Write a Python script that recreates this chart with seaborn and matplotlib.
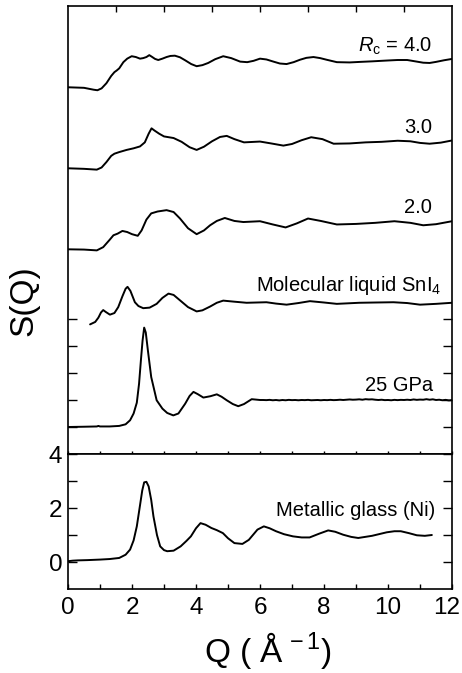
import numpy as np
import pandas as pd
import matplotlib
matplotlib.use("Agg")
import matplotlib.pyplot as plt
import matplotlib.transforms as mtransforms
import seaborn as sns

# ---------------- data ----------------
q_rc4 = [0, 0.5, 0.8, 0.92, 1.05, 1.2, 1.35, 1.45, 1.52, 1.6, 1.73, 1.85, 1.99, 2.12, 2.25, 2.35, 2.45, 2.54, 2.62, 2.72,
         2.82, 2.95, 3.08, 3.2, 3.34, 3.5, 3.66, 3.85, 4.02, 4.2, 4.38, 4.6, 4.85, 5.1, 5.38, 5.6, 5.8, 6.0, 6.2, 6.42,
         6.62, 6.83, 7.05, 7.25, 7.45, 7.67, 7.88, 8.08, 8.4, 8.8, 9.13, 9.5, 9.96, 10.3, 10.6, 10.85, 11.1, 11.3, 11.5,
         11.75, 12.0]
s_rc4 = [0.0, -0.02, -0.09, -0.11, -0.04, 0.15, 0.42, 0.56, 0.62, 0.7, 0.93, 1.06, 1.15, 1.12, 1.06, 1.08, 1.12, 1.19,
         1.13, 1.05, 1.01, 1.06, 1.12, 1.16, 1.17, 1.11, 1.0, 0.86, 0.78, 0.82, 0.9, 1.04, 1.15, 1.08, 0.95, 0.93, 0.98,
         1.06, 1.03, 0.95, 0.88, 0.86, 0.93, 1.02, 1.09, 1.12, 1.08, 1.02, 0.93, 0.92, 0.94, 0.96, 0.99, 1.01, 1.01,
         0.96, 0.91, 0.9, 0.94, 1.0, 1.05]

q_rc3 = [0, 0.5, 0.9, 1.05, 1.2, 1.35, 1.45, 1.6, 1.83, 2.05, 2.25, 2.4, 2.52, 2.61, 2.7, 2.85, 3.0, 3.3, 3.55, 3.8,
         4.02, 4.25, 4.5, 4.75, 4.96, 5.2, 5.5, 6.0, 6.35, 6.73, 7.0, 7.3, 7.6, 7.95, 8.3, 8.8, 9.3, 9.8, 10.3, 10.7,
         11.0, 11.3, 11.65, 12.0]
s_rc3 = [0.02, 0.0, -0.03, 0.05, 0.25, 0.48, 0.56, 0.62, 0.7, 0.76, 0.83, 0.98, 1.3, 1.5, 1.42, 1.3, 1.2, 1.14, 1.0, 0.8,
         0.7, 0.82, 1.02, 1.18, 1.22, 1.1, 0.98, 1.01, 0.94, 0.86, 0.92, 1.06, 1.17, 1.1, 0.93, 0.94, 0.98, 1.0, 1.04,
         1.02, 0.96, 0.93, 0.97, 1.05]

q_rc2 = [0, 0.5, 0.9, 1.1, 1.3, 1.42, 1.55, 1.7, 1.85, 2.0, 2.18, 2.3, 2.45, 2.6, 2.8, 3.08, 3.3, 3.5, 3.75, 4.02,
         4.25, 4.44, 4.65, 4.9, 5.2, 5.48, 6.0, 6.4, 6.8, 7.15, 7.5, 7.9, 8.4, 9.0, 9.6, 10.2, 10.7, 11.1, 11.5, 12.0]
s_rc2 = [0.0, -0.01, -0.04, 0.08, 0.35, 0.52, 0.58, 0.68, 0.64, 0.56, 0.5, 0.7, 1.1, 1.33, 1.4, 1.45, 1.38, 1.14, 0.78,
         0.56, 0.7, 0.89, 1.05, 1.16, 1.05, 1.01, 1.04, 0.92, 0.81, 0.96, 1.14, 1.05, 0.92, 0.94, 0.98, 1.04, 0.98,
         0.89, 0.93, 1.04]

q_sni4 = [0.69, 0.85, 0.95, 1.03, 1.1, 1.18, 1.31, 1.45, 1.57, 1.7, 1.8, 1.86, 1.95, 2.09, 2.2, 2.35, 2.55, 2.77, 2.95,
          3.14, 3.3, 3.5, 3.75, 4.02, 4.2, 4.44, 4.65, 4.85, 5.2, 5.58, 6.2, 6.5, 6.83, 7.2, 7.56, 8.0, 8.4, 9.1, 9.6,
          10.17, 10.6, 11.0, 11.5, 12.0]
s_sni4 = [0.16, 0.25, 0.41, 0.6, 0.69, 0.62, 0.52, 0.58, 0.8, 1.2, 1.48, 1.55, 1.4, 0.98, 0.84, 0.76, 0.78, 0.92, 1.14,
          1.3, 1.25, 1.05, 0.8, 0.64, 0.68, 0.82, 0.96, 1.04, 1.0, 0.96, 0.98, 0.93, 0.89, 0.95, 1.02, 0.97, 0.92,
          0.96, 0.97, 0.98, 0.95, 0.89, 0.92, 0.96]

q_25gpa = [0, 0.5, 0.9, 0.95, 1.0, 1.3, 1.6, 1.8, 1.94, 2.05, 2.15, 2.22, 2.28, 2.33, 2.38, 2.43, 2.5, 2.6, 2.77, 2.95,
           3.1, 3.29, 3.45, 3.66, 3.8, 3.92, 4.05, 4.23, 4.45, 4.65, 4.8, 4.96, 5.15, 5.32, 5.5, 5.74, 6.0,
           6.1, 6.2, 6.3, 6.4, 6.5, 6.6, 6.7, 6.8, 6.9, 7.0, 7.1, 7.2, 7.3, 7.4, 7.5, 7.6, 7.7, 7.8, 7.9, 8.0,
           8.1, 8.2, 8.3, 8.4, 8.5, 8.6, 8.7, 8.8, 8.9, 9.0, 9.1, 9.2, 9.3, 9.4, 9.5, 9.6, 9.7, 9.8, 9.9, 10.0,
           10.1, 10.2, 10.3, 10.4, 10.5, 10.6, 10.7, 10.8, 10.9, 11.0, 11.1, 11.2, 11.3, 11.4, 11.5, 11.6, 11.7,
           11.8, 11.9, 12.0]
s_25gpa = [0.0, 0.01, 0.02, 0.04, 0.02, 0.02, 0.04, 0.1, 0.25, 0.5, 0.9, 1.6, 2.5, 3.2, 3.68, 3.5, 2.8, 1.85, 0.99,
           0.68, 0.52, 0.43, 0.5, 0.86, 1.15, 1.3, 1.22, 1.09, 1.14, 1.21, 1.12, 0.99, 0.85, 0.77, 0.85, 1.03, 1.0,
           1.00, 0.995, 1.005, 0.99, 1.00, 0.985, 1.00, 0.99, 1.005, 0.995,
           1.00, 0.99, 1.00, 0.995, 1.005, 0.99, 0.995, 1.00, 0.99, 1.00,
           0.995, 1.005, 0.995, 1.00, 1.01, 1.00, 1.01, 1.02, 1.01, 1.015,
           1.025, 1.01, 1.03, 1.02, 1.025, 1.01, 1.00, 1.01, 0.995, 1.00,
           0.99, 1.005, 0.995, 1.005, 1.00, 1.01, 1.00, 1.02, 1.005, 1.015,
           1.01, 1.03, 1.01, 1.025, 1.00, 1.01, 0.99, 1.005, 0.985, 0.995]

q_glass = [0, 0.15, 0.3, 0.6, 1.0, 1.3, 1.6, 1.8, 1.94, 2.05, 2.15, 2.25, 2.32, 2.38, 2.45, 2.52, 2.6, 2.67, 2.78, 2.88,
           3.0, 3.1, 3.3, 3.52, 3.7, 3.84, 4.0, 4.14, 4.3, 4.48, 4.65, 4.84, 5.0, 5.2, 5.45, 5.65, 5.92, 6.12, 6.3,
           6.5, 6.75, 7.03, 7.3, 7.55, 7.85, 8.13, 8.35, 8.6, 8.85, 9.07, 9.5, 9.96, 10.2, 10.4, 10.65, 10.9, 11.15,
           11.37]
s_glass = [0.03, 0.05, 0.06, 0.07, 0.09, 0.11, 0.15, 0.27, 0.46, 0.8, 1.32, 2.1, 2.65, 2.95, 2.97, 2.8, 2.3, 1.69, 1.0,
           0.58, 0.44, 0.4, 0.42, 0.58, 0.78, 0.95, 1.25, 1.44, 1.38, 1.26, 1.18, 1.07, 0.88, 0.7, 0.67, 0.82, 1.2,
           1.32, 1.25, 1.14, 1.03, 0.95, 0.91, 0.91, 1.05, 1.17, 1.12, 1.01, 0.93, 0.89, 0.97, 1.1, 1.14, 1.14, 1.07,
           0.99, 0.97, 1.0]

top_names = ["Rc4", "Rc3", "Rc2", "SnI4", "25GPa"]
top_offsets = [13.58, 10.56, 7.58, 4.64, 1.0]
top_labels = [r"$R_{\mathrm{c}}$ = 4.0", "3.0", "2.0", r"Molecular liquid SnI$_{4}$", "25 GPa"]
glass_label = "Metallic glass (Ni)"
x_ticks = [0, 2, 4, 6, 8, 10, 12]

# ---------------- style ----------------
sns.set_style("ticks")
plt.rcParams["font.family"] = ["Liberation Sans", "DejaVu Sans"]
plt.rcParams["mathtext.fontset"] = "custom"
plt.rcParams["mathtext.rm"] = "Liberation Sans"
plt.rcParams["mathtext.it"] = "Liberation Sans:italic"
plt.rcParams["mathtext.bf"] = "Liberation Sans:bold"
plt.rcParams["axes.linewidth"] = 1.2
for key in ["text.color", "axes.labelcolor", "axes.edgecolor", "xtick.color", "ytick.color"]:
    plt.rcParams[key] = "black"

fig = plt.figure(figsize=(4.62, 6.73), dpi=100)
ax_top = fig.add_axes([0.1472, 0.3254, 0.8312, 0.6657])
ax_bot = fig.add_axes([0.1472, 0.1248, 0.8312, 0.2006])

curves = [(q_rc4, s_rc4), (q_rc3, s_rc3), (q_rc2, s_rc2), (q_sni4, s_sni4), (q_25gpa, s_25gpa)]
frames = []
for name, (q, s), off in zip(top_names, curves, top_offsets):
    frames.append(pd.DataFrame({"Q": q, "y": np.array(s) + off, "curve": name}))
df_top = pd.concat(frames, ignore_index=True)

for name in top_names:
    sub = df_top[df_top["curve"] == name]
    sns.lineplot(data=sub, x="Q", y="y", ax=ax_top, color="black", lw=1.4,
                 sort=False, estimator=None, legend=False)

df_glass = pd.DataFrame({"Q": q_glass, "S": s_glass})
sns.lineplot(data=df_glass, x="Q", y="S", ax=ax_bot, color="black", lw=1.4,
             sort=False, estimator=None, legend=False)

# ---------------- axes: top panel ----------------
ax_top.set_xlim(0, 12)
ax_top.set_ylim(0, 16.59)
ax_top.set_xlabel("")
ax_top.set_ylabel("")
ax_top.set_xticks(np.arange(0, 13, 1))
ax_top.set_xticklabels([])
ax_top.set_yticks([1, 2, 3, 4, 5])
ax_top.set_yticklabels([])
ax_top.tick_params(axis="y", direction="in", length=6.5, width=1.0, left=True, right=True)
ax_top.tick_params(axis="x", direction="in", length=2.2, width=1.0, bottom=True, top=False)
sec = ax_top.secondary_xaxis("top")
sec.set_xticks(np.arange(1.5, 12, 1.5))
sec.set_xticklabels([])
sec.tick_params(direction="in", length=4, width=1.0)
for sp in sec.spines.values():
    sp.set_visible(False)

label_pos = [(11.37, 14.9), (11.37, 11.88), (11.37, 8.91), (11.68, 6.05), (11.42, 2.34)]
for (xq, yv), txt in zip(label_pos, top_labels):
    ax_top.text(xq, yv, txt, ha="right", va="baseline", fontsize=14.5, color="black")

# ---------------- axes: bottom panel ----------------
ax_bot.set_xlim(0, 12)
ax_bot.set_ylim(-1, 4)
ax_bot.set_xlabel("")
ax_bot.set_ylabel("")
ax_bot.set_xticks(np.arange(0, 13, 1))
ax_bot.set_xticklabels([str(v) if v in x_ticks else "" for v in range(13)])
ax_bot.set_yticks([0, 1, 2, 3, 4])
ax_bot.set_yticklabels(["0", "", "2", "", "4"])
ax_bot.tick_params(axis="y", direction="in", length=6.5, width=1.0, left=True, right=True,
                   labelsize=17.5, pad=4)
ax_bot.tick_params(axis="x", direction="in", length=3.6, width=1.0, bottom=True, top=False,
                   labelsize=17.5, pad=6)
# keep the last x tick label ("12") inside the canvas
last_lbl = ax_bot.get_xticklabels()[-1]
last_lbl.set_transform(last_lbl.get_transform() +
                       mtransforms.ScaledTranslation(-5 / 100, 0, fig.dpi_scale_trans))
ax_bot.text(11.47, 1.71, glass_label, ha="right", va="baseline", fontsize=14.5, color="black")

# ---------------- axis titles ----------------
fig.text(0.052, 0.554, "S(Q)", rotation=90, ha="center", va="center", fontsize=24, color="black")
fig.text(0.58, 0.034, r"Q ( Å$^{\,-1}$)", ha="center", va="center", fontsize=24, color="black")

fig.savefig("out.png", dpi=100)
